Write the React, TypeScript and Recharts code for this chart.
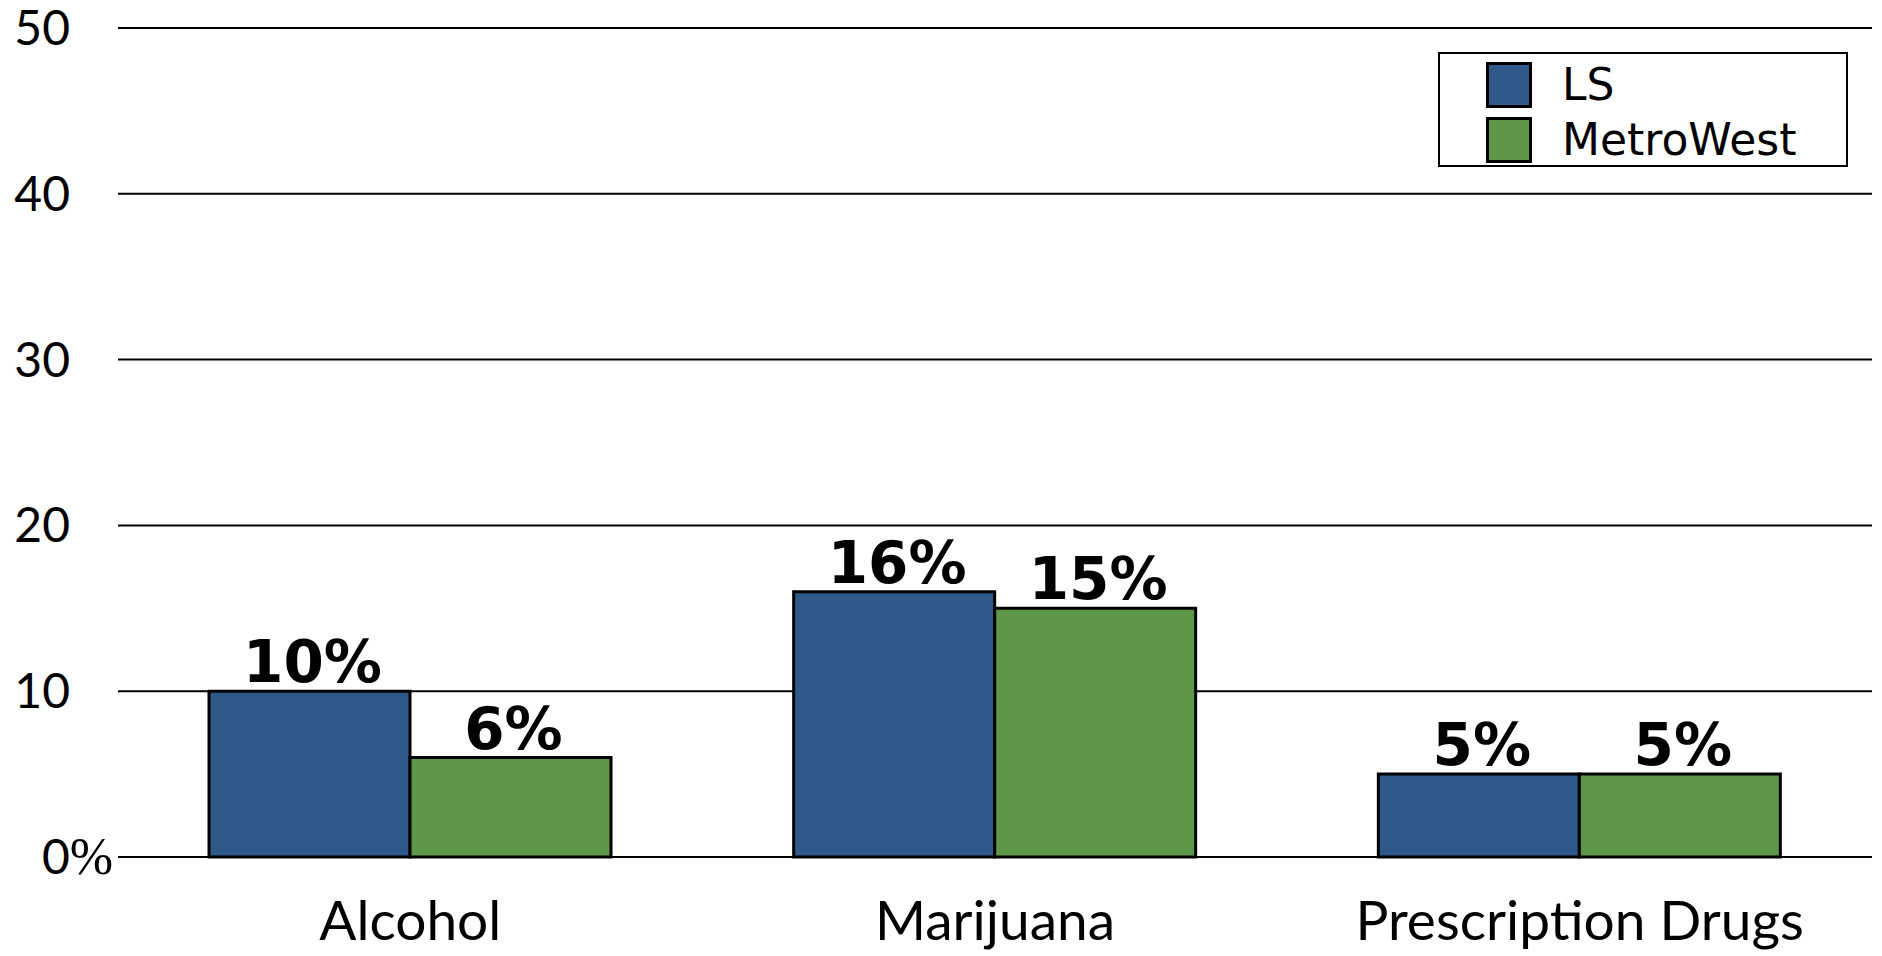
import { Bar, BarChart, CartesianGrid, Legend, XAxis, YAxis } from "recharts";

const categories = ["Alcohol", "Marijuana", "Prescription Drugs"];
const lsValues = [10, 16, 5];
const metroWestValues = [6, 15, 5];
const yTicks = [0, 10, 20, 30, 40, 50];

const seriesNames = ["LS", "MetroWest"];
const LS_COLOR = "#2F5989";
const MW_COLOR = "#5E9749";

const data = categories.map((name, i) => ({
  name,
  ls: lsValues[i],
  mw: metroWestValues[i],
}));

function YTick({ x, y, payload }: any) {
  // the 0 tick carries a serif % sign after it
  if (payload.value === 0) {
    return (
      <text x={x - 28} y={y} dy={17} textAnchor="start" fontFamily="Lato" fontSize={48} fill="#000">
        0
        <tspan fontFamily="Liberation Serif" fontSize={52}>
          %
        </tspan>
      </text>
    );
  }
  return (
    <text x={x} y={y} dy={17} textAnchor="end" fontFamily="Lato" fontSize={48} fill="#000">
      {payload.value}
    </text>
  );
}

function XTick({ x, y, payload }: any) {
  return (
    <text x={x} y={y + 83} textAnchor="middle" fontFamily="Lato" fontSize={55} fill="#000">
      {payload.value}
    </text>
  );
}

function BarLabel({ x, y, width, value }: any) {
  return (
    <text
      x={x + width / 2 + 3}
      y={y - 9}
      textAnchor="middle"
      fontFamily="DejaVu Sans"
      fontWeight="bold"
      fontSize={58}
      fill="#000"
    >
      {value}%
    </text>
  );
}

function LegendBox() {
  const colors = [LS_COLOR, MW_COLOR];
  return (
    <div
      style={{
        width: 410,
        height: 115,
        border: "2px solid #000",
        background: "#fff",
        boxSizing: "border-box",
        paddingTop: 3,
        fontFamily: "DejaVu Sans",
        fontSize: 44,
      }}
    >
      {seriesNames.map((n, i) => (
        <div key={n} style={{ display: "flex", alignItems: "center", height: 55 }}>
          <span
            style={{
              display: "inline-block",
              width: 46,
              height: 46,
              marginLeft: 46,
              marginRight: 30,
              boxSizing: "border-box",
              border: "3px solid #000",
              background: colors[i],
            }}
          />
          <span>{n}</span>
        </div>
      ))}
    </div>
  );
}

export default function App() {
  return (
    <div style={{ position: "absolute", left: 0, top: 0, background: "#fff" }}>
      <BarChart
        width={1882}
        height={956}
        data={data}
        margin={{ top: 28, right: 10, left: 0, bottom: 69 }}
        barCategoryGap={91}
        barGap={0}
      >
        <CartesianGrid vertical={false} stroke="#000" strokeWidth={2} />
        <XAxis
          dataKey="name"
          height={30}
          axisLine={false}
          tickLine={false}
          tickSize={0}
          tickMargin={0}
          tick={<XTick />}
          interval={0}
        />
        <YAxis
          domain={[0, 50]}
          ticks={yTicks}
          width={118}
          axisLine={false}
          tickLine={false}
          tickSize={0}
          tickMargin={48}
          tick={<YTick />}
          interval={0}
        />
        <Legend
          layout="horizontal"
          verticalAlign="middle"
          align="center"
          content={<LegendBox />}
          wrapperStyle={{ position: "absolute", left: 1438, top: 52, width: 410 }}
        />
        <Bar
          dataKey="ls"
          name="LS"
          fill={LS_COLOR}
          stroke="#000"
          strokeWidth={3}
          isAnimationActive={false}
          label={<BarLabel />}
        />
        <Bar
          dataKey="mw"
          name="MetroWest"
          fill={MW_COLOR}
          stroke="#000"
          strokeWidth={3}
          isAnimationActive={false}
          label={<BarLabel />}
        />
      </BarChart>
    </div>
  );
}
